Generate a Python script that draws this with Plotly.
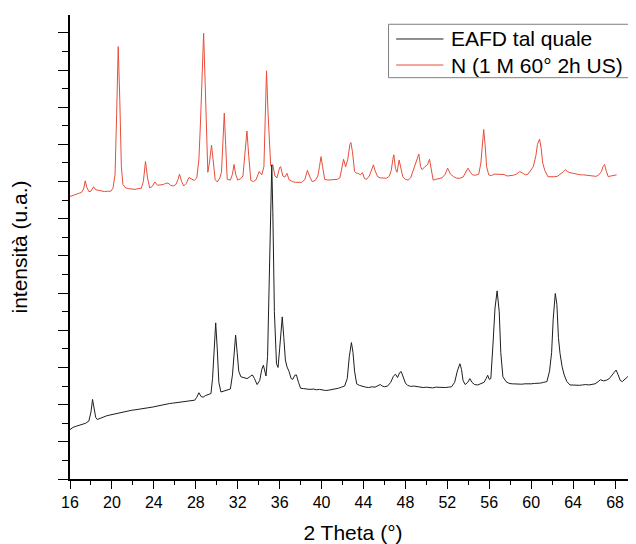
import plotly.graph_objects as go

# 2 Theta (deg) and intensity (counts)
x_eafd = [16.0, 16.3, 16.6, 16.9, 17.2, 17.5, 17.8, 18.0, 18.15, 18.3, 18.45, 18.6, 18.9, 19.2, 19.5,
          19.8, 20.1, 20.4, 20.7, 21.0, 21.3, 21.6, 21.9, 22.2, 22.5, 22.8, 23.1, 23.4, 23.7, 24.0,
          24.3, 24.6, 24.9, 25.2, 25.5, 25.8, 26.1, 26.4, 26.7, 27.0, 27.3, 27.6, 27.9, 28.1, 28.3,
          28.5, 28.7, 28.9, 29.2, 29.45, 29.6, 29.75, 29.9, 30.05, 30.2, 30.4, 30.7, 31.0, 31.3, 31.5,
          31.65, 31.8, 31.95, 32.1, 32.3, 32.6, 32.9, 33.2, 33.4, 33.6, 33.85, 34.1, 34.3, 34.45, 34.6,
          34.7, 34.85, 35.0, 35.15, 35.25, 35.35, 35.5, 35.7, 35.85, 36.0, 36.15, 36.25, 36.4, 36.55, 36.7,
          36.9, 37.1, 37.25, 37.45, 37.6, 37.8, 38.0, 38.3, 38.6, 38.9, 39.2, 39.5, 39.8, 40.1, 40.4,
          40.7, 41.0, 41.3, 41.6, 41.9, 42.2, 42.45, 42.65, 42.85, 43.0, 43.15, 43.35, 43.6, 43.9, 44.2,
          44.5, 44.8, 45.1, 45.4, 45.6, 45.8, 46.0, 46.3, 46.6, 46.85, 47.05, 47.25, 47.45, 47.6, 47.8,
          48.0, 48.2, 48.5, 48.8, 49.1, 49.4, 49.7, 50.0, 50.3, 50.6, 50.9, 51.2, 51.5, 51.8, 52.1,
          52.4, 52.7, 52.95, 53.2, 53.35, 53.5, 53.7, 53.95, 54.15, 54.35, 54.6, 54.9, 55.2, 55.5, 55.7,
          55.85, 56.0, 56.15, 56.35, 56.55, 56.75, 56.95, 57.1, 57.3, 57.6, 57.9, 58.2, 58.5, 58.8, 59.1,
          59.4, 59.7, 60.0, 60.3, 60.6, 60.9, 61.2, 61.5, 61.75, 61.95, 62.1, 62.3, 62.45, 62.6, 62.75,
          62.95, 63.15, 63.4, 63.7, 64.0, 64.3, 64.6, 64.9, 65.2, 65.5, 65.8, 66.1, 66.4, 66.6, 66.9,
          67.2, 67.45, 67.7, 67.95, 68.1, 68.3, 68.5, 68.7, 68.95, 69.2, 69.4, 69.6, 69.9]
y_eafd = [1330, 1390, 1420, 1450, 1470, 1500, 1560, 1800, 2140, 1900, 1660, 1600, 1640, 1660, 1700,
          1720, 1740, 1760, 1790, 1800, 1810, 1830, 1850, 1860, 1870, 1880, 1900, 1910, 1930, 1940,
          1960, 1980, 2000, 2010, 2030, 2040, 2050, 2060, 2070, 2080, 2090, 2100, 2120, 2200, 2320,
          2220, 2200, 2240, 2270, 2300, 2700, 3600, 4200, 3500, 2600, 2340, 2360, 2380, 2420, 2800,
          3500, 3870, 3400, 2900, 2750, 2720, 2700, 2760, 2800, 2700, 2540, 2650, 2950, 3060, 2850,
          2770, 3300, 5200, 7800, 8450, 7200, 4500, 3100, 3000, 3500, 4200, 4360, 3800, 3200, 3020,
          2890, 2700, 2680, 2790, 2800, 2600, 2440, 2430, 2420, 2410, 2420, 2400, 2410, 2390, 2380,
          2390, 2400, 2420, 2440, 2470, 2500, 2700, 3300, 3670, 3400, 2900, 2560, 2520, 2490, 2470,
          2460, 2480, 2470, 2500, 2540, 2500, 2480, 2500, 2600, 2760, 2820, 2730, 2860, 2890, 2750,
          2580, 2520, 2490, 2500, 2480, 2470, 2460, 2470, 2460, 2450, 2470, 2460, 2450, 2460, 2470,
          2480, 2600, 2900, 3100, 2950, 2650, 2540, 2600, 2700, 2600, 2540, 2530, 2560, 2600, 2700,
          2790, 2680, 2700, 3600, 4600, 5060, 4500, 3400, 2750, 2620, 2570, 2560, 2550, 2560, 2550,
          2560, 2550, 2560, 2570, 2570, 2580, 2600, 2620, 2900, 3400, 4300, 4990, 4700, 3800, 3380,
          3020, 2800, 2620, 2530, 2520, 2530, 2520, 2530, 2540, 2530, 2540, 2560, 2620, 2670, 2640,
          2660, 2700, 2800, 2900, 2930, 2800, 2650, 2620, 2700, 2750, 2700, 2580, 2530]

x_n = [16.0, 16.3, 16.6, 16.9, 17.1, 17.3, 17.45, 17.6, 17.8, 18.0, 18.25, 18.45, 18.7, 19.0, 19.3,
       19.6, 19.9, 20.1, 20.3, 20.45, 20.6, 20.75, 20.9, 21.05, 21.3, 21.6, 21.9, 22.2, 22.5, 22.8,
       23.0, 23.2, 23.4, 23.6, 23.85, 24.1, 24.35, 24.6, 24.9, 25.1, 25.35, 25.6, 25.85, 26.1, 26.3,
       26.45, 26.65, 26.85, 27.1, 27.35, 27.6, 27.85, 28.1, 28.3, 28.45, 28.6, 28.75, 28.9, 29.05, 29.15,
       29.3, 29.5, 29.65, 29.85, 30.05, 30.3, 30.45, 30.6, 30.72, 30.85, 31.0, 31.3, 31.5, 31.65, 31.8,
       32.0, 32.3, 32.5, 32.7, 32.88, 33.05, 33.25, 33.5, 33.75, 34.05, 34.3, 34.5, 34.62, 34.75, 34.9,
       35.05, 35.15, 35.35, 35.55, 35.75, 36.0, 36.1, 36.3, 36.5, 36.7, 36.9, 37.2, 37.5, 37.8, 38.1,
       38.4, 38.65, 38.85, 39.1, 39.4, 39.65, 39.8, 39.95, 40.1, 40.3, 40.6, 40.9, 41.2, 41.5, 41.75,
       41.95, 42.1, 42.3, 42.5, 42.7, 42.8, 42.95, 43.15, 43.3, 43.5, 43.7, 43.9, 44.1, 44.3, 44.55,
       44.8, 44.95, 45.1, 45.35, 45.6, 45.9, 46.2, 46.45, 46.65, 46.8, 46.9, 47.05, 47.2, 47.4, 47.55,
       47.75, 48.0, 48.25, 48.5, 48.75, 48.9, 49.0, 49.15, 49.28, 49.45, 49.6, 49.85, 50.1, 50.3, 50.5,
       50.65, 50.9, 51.2, 51.5, 51.8, 52.03, 52.3, 52.6, 52.9, 53.2, 53.5, 53.8, 53.97, 54.2, 54.4,
       54.7, 55.0, 55.2, 55.35, 55.47, 55.6, 55.75, 55.95, 56.2, 56.5, 56.8, 57.1, 57.4, 57.7, 58.0,
       58.3, 58.6, 58.9, 59.15, 59.45, 59.7, 60.0, 60.2, 60.45, 60.6, 60.8, 60.95, 61.1, 61.3, 61.6,
       61.9, 62.2, 62.5, 62.8, 63.05, 63.25, 63.45, 63.7, 64.0, 64.35, 64.7, 65.0, 65.3, 65.6, 65.9,
       66.2, 66.45, 66.7, 66.85, 67.0, 67.15, 67.35, 67.6, 67.9, 68.15]
y_n = [7600, 7640, 7660, 7690, 7710, 7800, 8020, 7850, 7730, 7740, 7860, 7780, 7760, 7740, 7730,
       7740, 7740, 7820, 8200, 9800, 11630, 10200, 8400, 7920, 7830, 7810, 7800, 7790, 7810, 7820,
       8000, 8540, 8100, 7830, 7870, 7990, 7900, 7910, 7920, 7950, 7960, 7900, 7880, 7920, 8050,
       8200, 8000, 7880, 7950, 8110, 8060, 8030, 8100, 8600, 9600, 10900, 11990, 10600, 8800, 8250,
       8500, 8980, 8600, 8050, 7990, 8100, 8250, 9000, 9840, 9000, 8060, 8040, 8200, 8460, 8200,
       8040, 8080, 8150, 8700, 9360, 8700, 8030, 8000, 8050, 8270, 8180, 8400, 9500, 10980, 9800,
       8700, 8420, 8450, 8150, 8100, 8380, 8400, 8150, 8120, 8220, 8050, 8000, 7980, 7970, 7980,
       8050, 8300, 8150, 8000, 8030, 8150, 8400, 8670, 8400, 8060, 8040, 8050, 8040, 8060, 8100,
       8400, 8600, 8400, 8600, 9000, 9050, 8800, 8270, 8230, 8220, 8180, 8240, 8080, 8060, 8150,
       8350, 8450, 8300, 8130, 8100, 8090, 8090, 8140, 8300, 8600, 8720, 8350, 8250, 8580, 8350,
       8130, 8060, 8040, 8100, 8300, 8420, 8500, 8650, 8740, 8400, 8320, 8400, 8450, 8600, 8300,
       8040, 8060, 8080, 8100, 8200, 8360, 8200, 8130, 8090, 8090, 8120, 8250, 8360, 8250, 8180,
       8170, 8200, 8500, 9000, 9400, 9000, 8400, 8180, 8160, 8200, 8200, 8210, 8190, 8150, 8150,
       8170, 8200, 8270, 8230, 8180, 8200, 8310, 8400, 8700, 9000, 9140, 8900, 8500, 8300, 8130,
       8120, 8130, 8140, 8200, 8260, 8320, 8270, 8240, 8220, 8210, 8180, 8180, 8170, 8160, 8150,
       8140, 8180, 8270, 8400, 8460, 8300, 8130, 8150, 8160, 8180]

x_ticks = list(range(16, 70, 4))

names = ["EAFD tal quale", "N (1 M 60° 2h US)"]
colors = ["#1e1e1e", "rgb(232,78,58)"]

font = "Arial, Liberation Sans, sans-serif"

fig = go.Figure()
# red first so the tall black peak is drawn on top of it, as in the original
fig.add_trace(go.Scatter(x=x_n, y=y_n, mode="lines", name=names[1],
                         line=dict(color=colors[1], width=1)))
fig.add_trace(go.Scatter(x=x_eafd, y=y_eafd, mode="lines", name=names[0],
                         line=dict(color=colors[0], width=1)))

# legend drawn by hand so the rows sit as tight as in the original
row_y = [0.9483, 0.8922]
fig.add_shape(type="rect", xref="paper", yref="paper", x0=0.5628, x1=0.9882, y0=0.8649, y1=0.98,
              line=dict(color="#7f7f7f", width=1), fillcolor="white", layer="above")
for name, col, ry in zip(names, colors, row_y):
    fig.add_shape(type="line", xref="paper", yref="paper", x0=0.5763, x1=0.6598, y0=ry, y1=ry,
                  line=dict(color=col, width=1), layer="above")
    fig.add_annotation(x=0.6700, y=ry, xref="paper", yref="paper", text=name, showarrow=False,
                       xanchor="left", yanchor="middle", font=dict(size=21, color="black"))

fig.update_layout(
    width=628, height=536,
    margin=dict(l=62, r=0, t=7, b=65),
    plot_bgcolor="white", paper_bgcolor="white",
    font=dict(family=font, color="black"),
    showlegend=False,
    xaxis=dict(range=[16, 70], tickvals=x_ticks, ticks="outside", ticklen=8, tickwidth=1.3,
               tickcolor="black", showline=True, linecolor="black", linewidth=1.5,
               showgrid=False, zeroline=False, tickfont=dict(size=16),
               minor=dict(dtick=2, tick0=16, ticks="outside", ticklen=4, tickcolor="black", tickwidth=1.3),
               title=dict(text="2 Theta (°)", font=dict(size=21), standoff=16), automargin=False),
    yaxis=dict(range=[0, 12480], dtick=1000, tick0=0, ticks="outside", ticklen=10, tickwidth=1.3,
               tickcolor="black", showticklabels=False, showline=True, linecolor="black", linewidth=1.5,
               showgrid=False, zeroline=False,
               minor=dict(dtick=500, tick0=0, ticks="outside", ticklen=6, tickcolor="black", tickwidth=1.3),
               title=dict(text="intensità (u.a.)", font=dict(size=21), standoff=25), automargin=False),
)

fig.write_html("out.html")
